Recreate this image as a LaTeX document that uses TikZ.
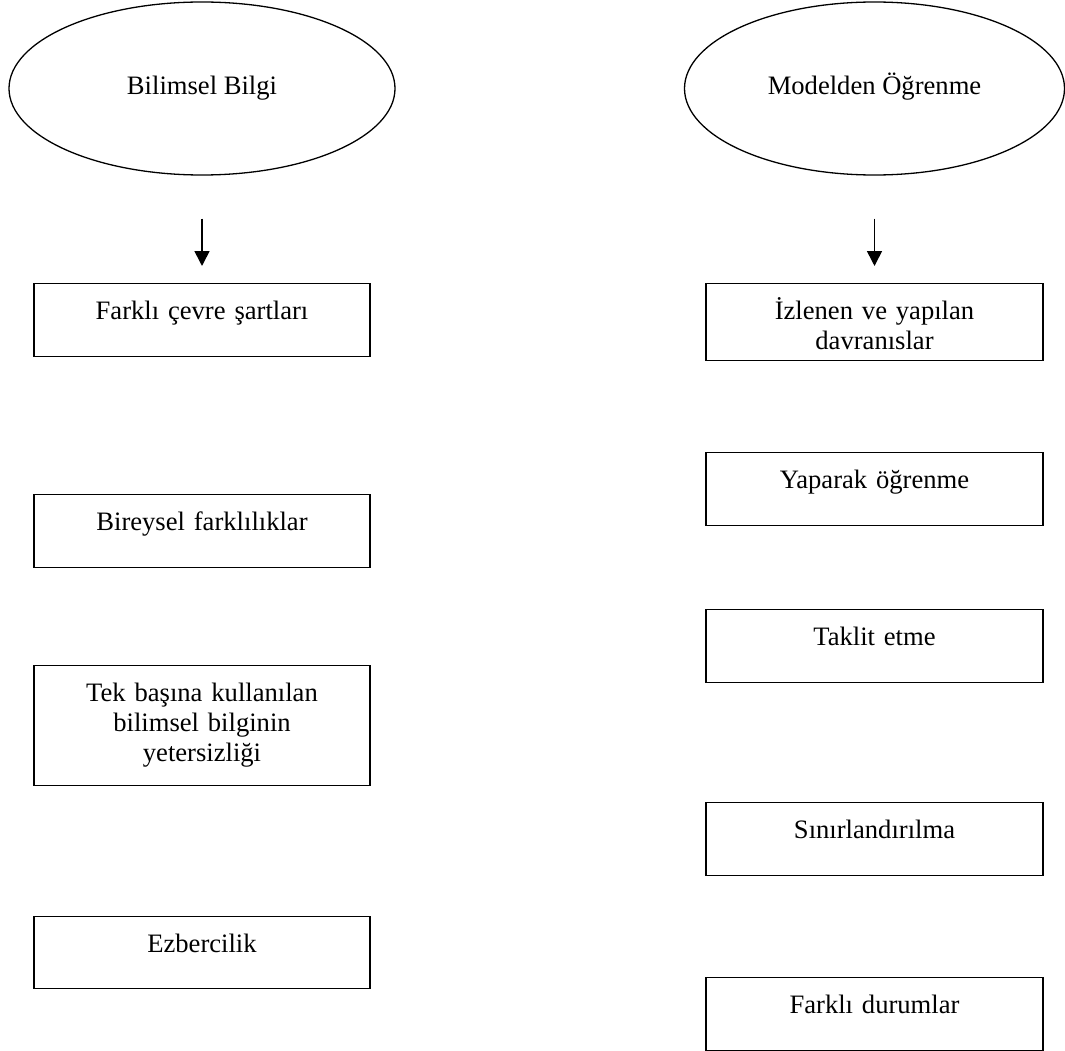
\documentclass[tikz,border=0pt]{standalone}
\usepackage{fontspec}
\setmainfont{Liberation Serif}
\usetikzlibrary{shapes.geometric,arrows.meta}

\tikzset{
  balon/.style={draw, ellipse, line width=1.3pt, minimum width=386pt, minimum height=173pt, inner sep=0pt, text height=18pt, text depth=6pt},
  kutu/.style={draw, line width=1.4pt, anchor=north, text width=336pt, align=center, inner sep=0pt, text height=36pt},
  ok/.style={-{Triangle[length=15pt,width=15pt]}, line width=1.6pt, shorten <=43pt, shorten >=17pt}
}

\begin{document}
\begin{tikzpicture}[x=1pt, y=-1pt, font=\fontsize{26.6}{30}\selectfont]

  \useasboundingbox (0,0) rectangle (1065,1051);

  \node[balon] (bilimsel) at (202,88.5) {Bilimsel Bilgi};
  \node[balon, minimum width=380pt] (modelden) at (874.5,88.5) {Modelden Öğrenme};

  \node[kutu, text depth=37pt] (farkli) at (202,283) {Farklı çevre şartları};
  \node[kutu, text depth=37pt] (bireysel) at (202,494) {Bireysel farklılıklar};
  \node[kutu, text depth=84pt] (tekbasina) at (202,665) {Tek başına kullanılan\\bilimsel bilginin\\yetersizliği};
  \node[kutu, text depth=36pt] (ezber) at (202,916) {Ezbercilik};

  \node[kutu, text width=337pt, text depth=41pt] (izlenen) at (874.5,283) {İzlenen ve yapılan\\davranıslar};
  \node[kutu, text width=337pt, text depth=37pt] (yaparak) at (874.5,452) {Yaparak öğrenme};
  \node[kutu, text width=337pt, text depth=37pt] (taklit) at (874.5,609) {Taklit etme};
  \node[kutu, text width=337pt, text depth=37pt] (sinir) at (874.5,802) {Sınırlandırılma};
  \node[kutu, text width=337pt, text depth=37pt] (durumlar) at (874.5,977) {Farklı durumlar};

  \draw[ok] (bilimsel.south) -- (farkli.north);
  \draw[ok] (modelden.south) -- (izlenen.north);

\end{tikzpicture}
\end{document}
